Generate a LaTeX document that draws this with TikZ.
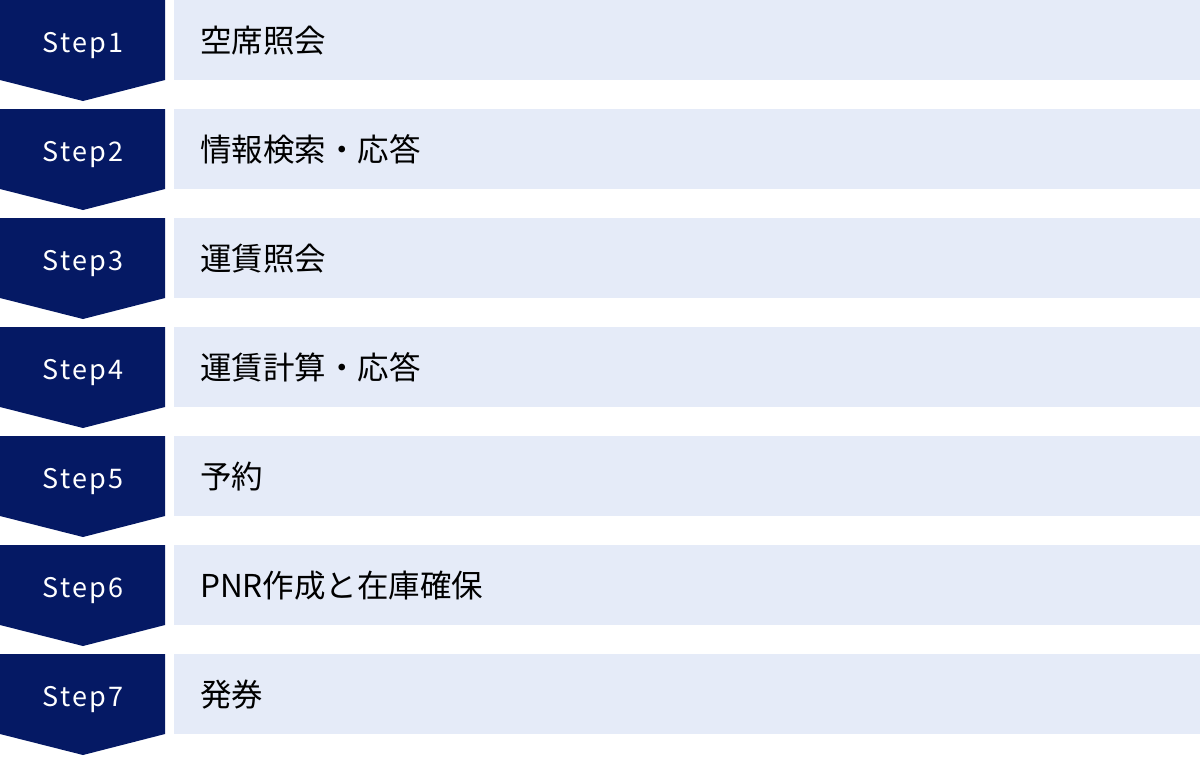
\documentclass[tikz,border=0pt]{standalone}
\usepackage{fontspec}
\setmainfont{Noto Sans CJK JP}
\newfontfamily\stepfont[LetterSpace=9]{Noto Sans CJK JP}
\definecolor{navy}{HTML}{051964}
\definecolor{pale}{HTML}{E5EBF8}
\tikzset{
  chevron/.style={fill=navy, draw=none},
  taskbox/.style={fill=pale, draw=none},
  steplabel/.style={text=white, anchor=base, inner sep=0pt, font=\stepfont\fontsize{27}{30}\selectfont},
  tasklabel/.style={text=black, anchor=base west, inner sep=0pt, font=\fontsize{31.5}{34}\selectfont},
}
\begin{document}
\begin{tikzpicture}[x=1pt,y=-1pt]
\useasboundingbox (0,0) rectangle (1200,756);
\foreach \i/\t in {1/空席照会,2/情報検索・応答,3/運賃照会,4/運賃計算・応答,5/予約,6/PNR作成と在庫確保,7/発券} {
  \pgfmathsetmacro\yy{109*(\i-1)}
  \fill[chevron] (0,\yy) -- (165,\yy) -- (165,\yy+80) -- (83,\yy+101) -- (0,\yy+80) -- cycle;
  \fill[taskbox] (174,\yy) rectangle (1200,\yy+80);
  \node[steplabel] (s\i) at (83,\yy+52) {Step\i};
  \node[tasklabel] (t\i) at (200,\yy+52) {\t};
}
\end{tikzpicture}
\end{document}
